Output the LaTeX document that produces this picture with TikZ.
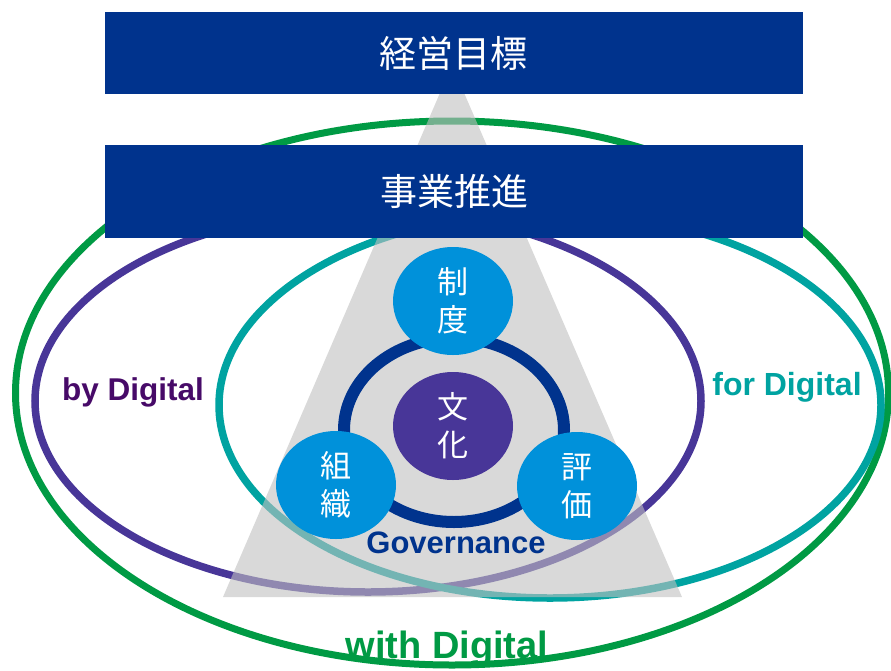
\documentclass[tikz,border=0pt]{standalone}
\usepackage{fontspec}
\setmainfont{Liberation Sans}
\newfontfamily\cjk{Noto Sans CJK JP}
\usetikzlibrary{shapes.geometric}

\begin{document}
\begin{tikzpicture}[x=1pt, y=-1pt,
    banner/.style={fill=navy, text=white, minimum width=698pt, inner sep=0pt,
      font=\cjk\fontsize{37}{40}\selectfont},
    pill/.style={ellipse, fill=skyblue, text=white, minimum width=120pt,
      minimum height=108pt, inner sep=0pt, align=center,
      font=\cjk\fontsize{31}{38}\selectfont},
    tag/.style={anchor=base, font=\bfseries\fontsize{31}{31}\selectfont}]
        % -------- 共用色 --------
        \definecolor{navy}{RGB}{0,51,141}
        \definecolor{skyblue}{RGB}{0,145,218}
        \definecolor{culture}{RGB}{72,54,152}
        \definecolor{byline}{RGB}{72,54,152}
        \definecolor{bytext}{RGB}{71,10,104}
        \definecolor{forline}{RGB}{0,163,161}
        \definecolor{withline}{RGB}{0,154,68}
        \definecolor{trigray}{RGB}{192,192,192}

        \useasboundingbox (0,0) rectangle (891,670);

        % -------- with / by / for Digital --------
        \draw[withline, line width=7pt] (452,393) ellipse [x radius=436.5pt, y radius=272pt];
        \draw[byline, line width=7.5pt] (368,401) ellipse [x radius=333pt, y radius=191pt];
        \draw[forline, line width=7.5pt] (550,405) ellipse [x radius=331pt, y radius=193pt];

        % 三角形 (半透明)
        \fill[trigray, fill opacity=0.6] (452,65) -- (682,597) -- (223,597) -- cycle;

        % -------- 帯 --------
        \node[banner, minimum height=82pt] (goal) at (453.5,53) {経営目標};
        \node[banner, minimum height=93pt] (biz) at (454,191.5) {事業推進};

        % -------- Governance ring --------
        \node[ellipse, draw=navy, line width=12pt, minimum width=220pt,
          minimum height=184pt, inner sep=0pt] (ring) at (454,430) {};

        \node[pill] (seido) at (453,301) {制\\度};
        \node[pill, fill=culture] (bunka) at (453,426) {文\\化};
        \node[pill] (soshiki) at (336,485) {組\\織};
        \node[pill] (hyoka) at (577,486) {評\\価};

        % -------- 文字 --------
        \node[tag, text=navy] (gov) at (456,553) {Governance};
        \node[tag, text=bytext, font=\bfseries\fontsize{31.5}{31.5}\selectfont] (by) at (133,400) {by Digital};
        \node[tag, text=forline, font=\bfseries\fontsize{32}{32}\selectfont] (for) at (787,395) {for Digital};
        \node[tag, text=withline, font=\bfseries\fontsize{38}{38}\selectfont] (with) at (447,658) {with Digital};
\end{tikzpicture}
\end{document}
